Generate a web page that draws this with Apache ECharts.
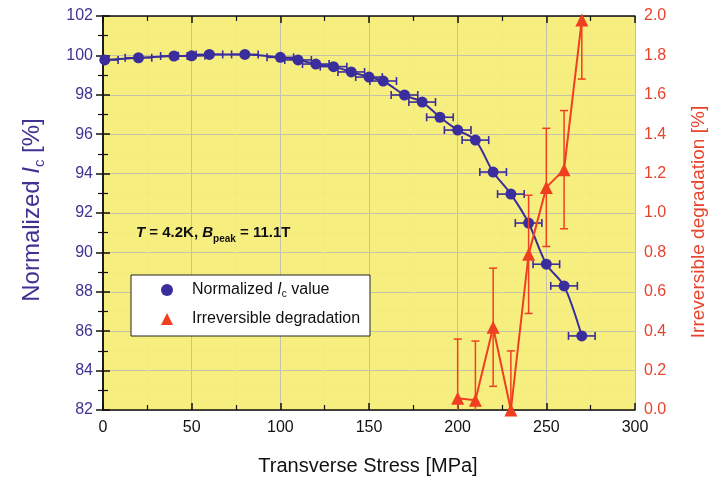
<!DOCTYPE html>
<html><head><meta charset="utf-8">
<script src="https://cdn.jsdelivr.net/npm/echarts@6/dist/echarts.min.js"></script>
<style>html,body{margin:0;padding:0;background:#fff}#c{width:720px;height:482px}</style>
</head><body><div id="c"></div>
<script>
// ---- data ----
const stress     = [1, 20, 40, 50, 60, 80, 100, 110, 120, 130, 140, 150, 158, 170, 180, 190, 200, 210, 220, 230, 240, 250, 260, 270];
const icNorm     = [99.77, 99.88, 99.97, 99.98, 100.05, 100.05, 99.90, 99.77, 99.56, 99.43, 99.16, 98.90, 98.70, 97.99, 97.63, 96.86, 96.21, 95.70, 94.08, 92.96, 91.49, 89.40, 88.30, 85.76];
const stressErr  = [7.5, 7.5, 7.5, 7.5, 7.5, 7.5, 7.5, 7.5, 7.5, 7.5, 7.5, 7.5, 7.5, 7.5, 7.5, 7.5, 7.5, 7.5, 7.5, 7.5, 7.5, 7.5, 7.5, 7.5];
const degStress  = [200, 210, 220, 230, 240, 250, 260, 270];
const degValue   = [0.06, 0.05, 0.42, 0.0, 0.79, 1.13, 1.22, 1.98];
const degErr     = [0.30, 0.30, 0.30, 0.30, 0.30, 0.30, 0.30, 0.30];
const xTicks = {min: 0, max: 300, interval: 50};
const yLeftTicks = {min: 82, max: 102, interval: 2};
const yRightTicks = {min: 0, max: 2, interval: 0.2};

const BLUE = '#3a2d9c';
const RED = '#f03f20';
const BLUE_TXT = '#3d3393';
const RED_TXT = '#e8432c';
const FONT = 'Arial, "Liberation Sans", Helvetica, sans-serif';

const chart = echarts.init(document.getElementById('c'), null, {renderer: 'canvas'});

function hErr(params, api) {
  const x = api.value(0), y = api.value(1), e = api.value(2);
  const p1 = api.coord([x - e, y]), p2 = api.coord([x + e, y]);
  const h = 4, st = {stroke: BLUE, lineWidth: 1.6};
  return {type: 'group', children: [
    {type: 'line', shape: {x1: p1[0], y1: p1[1], x2: p2[0], y2: p2[1]}, style: st},
    {type: 'line', shape: {x1: p1[0], y1: p1[1] - h, x2: p1[0], y2: p1[1] + h}, style: st},
    {type: 'line', shape: {x1: p2[0], y1: p2[1] - h, x2: p2[0], y2: p2[1] + h}, style: st}
  ]};
}
function vErr(params, api) {
  const x = api.value(0), y = api.value(1), e = api.value(2);
  const p1 = api.coord([x, y - e]), p2 = api.coord([x, y + e]);
  const w = 4, st = {stroke: RED, lineWidth: 1.5};
  return {type: 'group', children: [
    {type: 'line', shape: {x1: p1[0], y1: p1[1], x2: p2[0], y2: p2[1]}, style: st},
    {type: 'line', shape: {x1: p1[0] - w, y1: p1[1], x2: p1[0] + w, y2: p1[1]}, style: st},
    {type: 'line', shape: {x1: p2[0] - w, y1: p2[1], x2: p2[0] + w, y2: p2[1]}, style: st}
  ]};
}

const axisLine = {show: true, lineStyle: {color: '#111', width: 1.5}};
const tick = {show: true, inside: true, length: 7, lineStyle: {color: '#111', width: 1.5}};
const minorTick = {show: true, splitNumber: 2, length: 5, lineStyle: {color: '#111', width: 1.2}};
const split = {show: true, lineStyle: {color: '#c4c2a8', width: 1}};
const minorSplit = {show: true, lineStyle: {color: '#efe684', width: 1, type: 'dotted'}};

const option = {
  animation: false,
  backgroundColor: '#ffffff',
  textStyle: {fontFamily: FONT},
  grid: {left: 103, right: 85, top: 16, bottom: 72, show: true, backgroundColor: '#f7ee80', borderWidth: 0},
  xAxis: [
    {type: 'value', position: 'bottom', min: xTicks.min, max: xTicks.max, interval: xTicks.interval,
     axisLine, axisTick: tick, minorTick, splitLine: split, minorSplitLine: minorSplit,
     axisLabel: {color: '#111', fontSize: 16, margin: 10, fontFamily: FONT}},
    {type: 'value', position: 'top', min: xTicks.min, max: xTicks.max, interval: xTicks.interval,
     axisLine, axisTick: tick, minorTick, splitLine: {show: false}, axisLabel: {show: false}}
  ],
  yAxis: [
    {type: 'value', position: 'left', min: yLeftTicks.min, max: yLeftTicks.max, interval: yLeftTicks.interval,
     axisLine, axisTick: tick, minorTick, splitLine: split, minorSplitLine: minorSplit,
     axisLabel: {color: BLUE_TXT, fontSize: 16, margin: 10, fontFamily: FONT}},
    {type: 'value', position: 'right', min: yRightTicks.min, max: yRightTicks.max, interval: yRightTicks.interval,
     axisLine, axisTick: tick, minorTick, splitLine: {show: false},
     axisLabel: {color: RED_TXT, fontSize: 16, margin: 9, fontFamily: FONT, formatter: v => v.toFixed(1)}}
  ],
  legend: {
    orient: 'vertical', left: 161, top: 282, itemWidth: 12, itemHeight: 12, itemGap: 12,
    selectedMode: false, padding: 0, z: 10,
    data: [{name: 'Normalized Ic value', icon: 'circle'}, {name: 'Irreversible degradation', icon: 'triangle'}],
    formatter: function (name) {
      if (name === 'Normalized Ic value') return '{g|}{n|Normalized }{i|I}{s|c}{n| value}';
      return '{g|}{n|Irreversible degradation}';
    },
    textStyle: {
      fontFamily: FONT, fontSize: 16, color: '#111',
      rich: {
        g: {width: 14},
        n: {fontSize: 16, color: '#111', lineHeight: 18, fontFamily: FONT},
        i: {fontSize: 16, color: '#111', lineHeight: 18, fontStyle: 'italic', fontFamily: FONT},
        s: {fontSize: 10, color: '#111', lineHeight: 8, verticalAlign: 'bottom', fontFamily: FONT}
      }
    }
  },
  graphic: [
    {type: 'rect', z: 5, shape: {x: 131, y: 275, width: 239, height: 61},
     style: {fill: '#ffffff', stroke: '#222', lineWidth: 1}},
    {type: 'text', z: 6, x: 136, y: 233,
     style: {text: '{bi|T}{b| = 4.2K, }{bi|B}{sub|peak}{b| = 11.1T}', verticalAlign: 'middle', align: 'left',
       rich: {
         b: {fontSize: 15, fontWeight: 'bold', fill: '#111', color: '#111', lineHeight: 22, fontFamily: FONT},
         bi: {fontSize: 15, fontWeight: 'bold', fontStyle: 'italic', fill: '#111', color: '#111', lineHeight: 22, fontFamily: FONT},
         sub: {fontSize: 10, fontWeight: 'bold', fill: '#111', color: '#111', lineHeight: 8, verticalAlign: 'bottom', fontFamily: FONT}
       }}},
    {type: 'text', z: 6, x: 32, y: 210, rotation: Math.PI / 2,
     style: {text: '{n|Normalized }{i|I}{s|c}{n| [%]}', align: 'center', verticalAlign: 'middle',
       rich: {
         n: {fontSize: 24, fill: BLUE_TXT, color: BLUE_TXT, lineHeight: 30, fontFamily: FONT},
         i: {fontSize: 24, fill: BLUE_TXT, color: BLUE_TXT, lineHeight: 30, fontStyle: 'italic', fontFamily: FONT},
         s: {fontSize: 15, fill: BLUE_TXT, color: BLUE_TXT, lineHeight: 12, verticalAlign: 'bottom', fontFamily: FONT}
       }}},
    {type: 'text', z: 6, x: 699, y: 222, rotation: Math.PI / 2,
     style: {text: 'Irreversible degradation [%]', align: 'center', verticalAlign: 'middle',
       fill: RED_TXT, font: '19px ' + FONT}},
    {type: 'text', z: 6, x: 368, y: 466,
     style: {text: 'Transverse Stress [MPa]', align: 'center', verticalAlign: 'middle',
       fill: '#111', font: '20px ' + FONT}}
  ],
  series: [
    {name: 'Normalized Ic value', type: 'line', xAxisIndex: 0, yAxisIndex: 0, z: 4,
     data: stress.map((s, i) => [s, icNorm[i]]), smooth: 0.3,
     symbol: 'circle', symbolSize: 11, itemStyle: {color: BLUE},
     lineStyle: {color: BLUE, width: 2}},
    {name: 'xerr', type: 'custom', xAxisIndex: 0, yAxisIndex: 0, z: 3,
     data: stress.map((s, i) => [s, icNorm[i], stressErr[i]]),
     encode: {x: 0, y: 1}, renderItem: hErr, clip: true},
    {name: 'Irreversible degradation', type: 'line', xAxisIndex: 0, yAxisIndex: 1, z: 6,
     data: degStress.map((s, i) => [s, degValue[i]]),
     symbol: 'triangle', symbolSize: 13, itemStyle: {color: RED},
     lineStyle: {color: RED, width: 2}},
    {name: 'yerr', type: 'custom', xAxisIndex: 0, yAxisIndex: 1, z: 5,
     data: degStress.map((s, i) => [s, degValue[i], degErr[i]]),
     encode: {x: 0, y: 1}, renderItem: vErr, clip: true}
  ]
};
chart.setOption(option);
</script></body></html>
